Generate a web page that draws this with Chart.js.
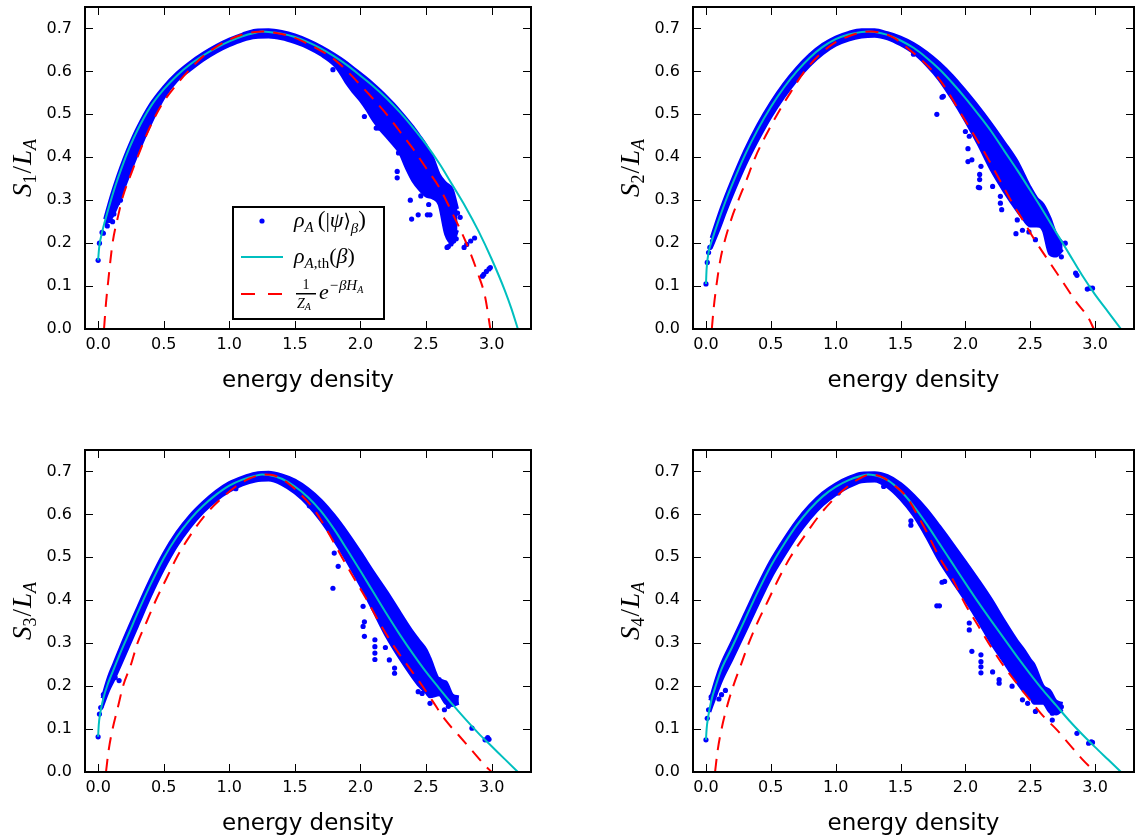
<!DOCTYPE html>
<html><head><meta charset="utf-8">
<script src="https://cdn.jsdelivr.net/npm/chart.js@4/dist/chart.umd.min.js"></script>
<style>
html,body{margin:0;padding:0;background:#fff;}
#wrap{position:relative;width:1138px;height:840px;overflow:hidden;background:#fff;}
canvas{position:absolute;}
</style></head><body>
<div id="wrap">
<canvas id="c1" width="569" height="420" style="left:0;top:0"></canvas>
<canvas id="c2" width="530" height="420" style="left:608px;top:0"></canvas>
<canvas id="c3" width="569" height="397" style="left:0;top:443px"></canvas>
<canvas id="c4" width="530" height="397" style="left:608px;top:443px"></canvas>
</div>
<script>
// ---------- tick labels ----------
const xTickVals = [0, 0.5, 1.0, 1.5, 2.0, 2.5, 3.0];
const yTickVals = [0, 0.1, 0.2, 0.3, 0.4, 0.5, 0.6, 0.7];
const renyiIndex = ['1', '2', '3', '4'];

// ---------- panel 1 : S1/LA ----------
const thE1 = [0,0.005,0.01,0.03,0.06,0.09,0.13,0.18,0.24,0.3,0.4,0.5,0.6,0.7,0.8,0.9,1.0,1.1,1.2,1.25,1.3,1.4,1.5,1.6,1.7,1.8,1.9,2.0,2.1,2.2,2.3,2.4,2.5,2.6,2.7,2.8,2.9,3.0,3.1,3.15,3.2];
const thS1 = [0.16,0.18,0.195,0.225,0.26,0.292,0.332,0.376,0.423,0.463,0.518,0.558,0.59,0.616,0.637,0.655,0.67,0.682,0.69,0.693,0.692,0.688,0.68,0.668,0.653,0.635,0.614,0.59,0.565,0.537,0.505,0.469,0.43,0.386,0.336,0.285,0.228,0.163,0.09,0.048,0.0];
const gbE1 = [0.045,0.06,0.08,0.11,0.15,0.19,0.25,0.3,0.38,0.48,0.6,0.7,0.8,0.9,1.0,1.1,1.2,1.25,1.3,1.4,1.5,1.6,1.7,1.8,1.9,2.0,2.1,2.2,2.3,2.4,2.5,2.6,2.7,2.8,2.9,2.95,2.99];
const gbS1 = [0.0,0.06,0.12,0.2,0.26,0.31,0.36,0.4,0.46,0.52,0.57,0.605,0.635,0.657,0.674,0.686,0.692,0.693,0.692,0.687,0.678,0.664,0.648,0.628,0.6,0.568,0.535,0.5,0.46,0.42,0.375,0.33,0.27,0.205,0.125,0.075,0.0];
const clE1 = [0.05,0.1,0.15,0.2,0.25,0.3,0.4,0.5,0.6,0.7,0.8,0.9,1.0,1.1,1.2,1.3,1.4,1.5,1.6,1.7,1.8,1.85,1.9,1.95,2.0,2.05,2.1,2.15,2.2,2.25,2.3,2.35,2.4,2.45,2.5,2.55,2.6,2.65,2.7,2.74];
const clHi1 = [0.256,0.31,0.357,0.399,0.436,0.469,0.524,0.564,0.596,0.621,0.642,0.66,0.675,0.687,0.696,0.697,0.693,0.685,0.673,0.658,0.64,0.63,0.619,0.607,0.595,0.583,0.57,0.556,0.541,0.525,0.508,0.49,0.471,0.45,0.428,0.4,0.36,0.34,0.325,0.28];
const clLo1 = [0.245,0.258,0.29,0.33,0.37,0.408,0.478,0.538,0.578,0.603,0.626,0.645,0.66,0.672,0.679,0.68,0.676,0.667,0.655,0.638,0.615,0.595,0.57,0.55,0.532,0.51,0.485,0.465,0.448,0.43,0.41,0.375,0.345,0.325,0.31,0.305,0.29,0.22,0.2,0.23];
const dtE1 = [0.0,0.01,0.03,0.04,0.07,0.09,0.11,0.12,0.15,0.17,0.19,1.79,1.83,2.03,2.12,2.14,2.28,2.28,2.29,2.39,2.44,2.51,2.53,2.38,2.52,2.46,2.67,2.69,2.71,2.73,2.66,2.7,2.72,2.79,2.81,2.84,2.87,2.93,2.94,2.96,2.98,2.99,2.74,2.76,2.62,2.64];
const dtS1 = [0.16,0.2,0.225,0.223,0.24,0.253,0.25,0.268,0.294,0.3,0.33,0.604,0.62,0.495,0.468,0.468,0.367,0.352,0.41,0.256,0.266,0.266,0.266,0.3,0.29,0.31,0.192,0.198,0.205,0.21,0.19,0.235,0.225,0.19,0.197,0.205,0.212,0.123,0.127,0.134,0.14,0.143,0.27,0.26,0.3,0.32];

// ---------- panel 2 : S2/LA ----------
const thE2 = [0,0.005,0.02,0.05,0.1,0.15,0.2,0.3,0.4,0.5,0.6,0.7,0.8,0.9,1.0,1.1,1.2,1.25,1.3,1.4,1.5,1.6,1.7,1.8,1.9,2.0,2.1,2.2,2.3,2.4,2.5,2.6,2.7,2.8,2.9,3.0,3.1,3.2];
const thS2 = [0.105,0.14,0.178,0.21,0.255,0.297,0.335,0.405,0.465,0.517,0.562,0.6,0.632,0.657,0.675,0.686,0.692,0.693,0.692,0.685,0.672,0.655,0.632,0.605,0.573,0.538,0.5,0.46,0.415,0.37,0.323,0.275,0.225,0.175,0.125,0.08,0.04,0.0];
const gbE2 = [0.045,0.06,0.08,0.11,0.14,0.2,0.25,0.31,0.38,0.46,0.55,0.65,0.76,0.88,1.0,1.1,1.2,1.27,1.35,1.45,1.55,1.65,1.75,1.85,1.95,2.05,2.15,2.25,2.35,2.45,2.55,2.65,2.75,2.85,2.95,2.99];
const gbS2 = [0.0,0.05,0.1,0.16,0.2,0.26,0.3,0.345,0.4,0.45,0.5,0.55,0.6,0.64,0.668,0.682,0.691,0.693,0.69,0.678,0.655,0.63,0.6,0.56,0.51,0.46,0.41,0.355,0.3,0.25,0.2,0.155,0.11,0.065,0.025,0.0];
const clE2 = [0.04,0.1,0.15,0.2,0.3,0.4,0.5,0.6,0.7,0.8,0.9,1.0,1.1,1.2,1.3,1.4,1.5,1.6,1.7,1.8,1.9,2.0,2.1,2.2,2.3,2.4,2.45,2.5,2.55,2.6,2.65,2.7,2.75];
const clHi2 = [0.212,0.267,0.308,0.346,0.416,0.476,0.527,0.571,0.608,0.639,0.663,0.68,0.691,0.697,0.697,0.69,0.68,0.665,0.645,0.62,0.59,0.555,0.518,0.478,0.435,0.39,0.36,0.33,0.305,0.29,0.26,0.22,0.2];
const clLo2 = [0.188,0.232,0.272,0.31,0.38,0.44,0.494,0.54,0.58,0.614,0.641,0.661,0.673,0.68,0.682,0.676,0.662,0.643,0.615,0.58,0.535,0.485,0.43,0.37,0.32,0.275,0.255,0.24,0.24,0.23,0.175,0.17,0.185];
const dtE2 = [0.0,0.01,0.02,0.03,0.05,1.6,1.62,1.78,1.82,1.83,2.02,2.03,2.0,2.02,2.05,2.12,2.11,2.11,2.11,2.1,2.21,2.27,2.27,2.28,2.4,2.39,2.44,2.49,2.54,2.64,2.64,2.77,2.74,2.85,2.86,2.96,2.98,2.94];
const dtS2 = [0.105,0.155,0.178,0.19,0.205,0.64,0.645,0.5,0.54,0.542,0.42,0.449,0.46,0.39,0.394,0.379,0.36,0.348,0.329,0.33,0.332,0.309,0.293,0.278,0.254,0.222,0.23,0.226,0.208,0.254,0.223,0.2,0.168,0.13,0.125,0.095,0.095,0.093];

// ---------- panel 3 : S3/LA ----------
const thE3 = [0,0.005,0.015,0.04,0.08,0.12,0.18,0.24,0.3,0.4,0.5,0.6,0.7,0.8,0.9,1.0,1.1,1.2,1.25,1.3,1.4,1.5,1.6,1.7,1.8,1.9,2.0,2.1,2.2,2.3,2.4,2.5,2.6,2.7,2.8,2.9,3.0,3.1,3.2];
const thS3 = [0.082,0.11,0.135,0.172,0.21,0.24,0.285,0.327,0.37,0.437,0.498,0.548,0.588,0.62,0.646,0.667,0.681,0.69,0.693,0.692,0.683,0.665,0.64,0.607,0.565,0.517,0.468,0.418,0.368,0.32,0.275,0.233,0.195,0.158,0.123,0.09,0.06,0.03,0.0];
const gbE3 = [0.06,0.08,0.11,0.15,0.19,0.25,0.3,0.37,0.44,0.52,0.6,0.7,0.82,0.95,1.05,1.15,1.27,1.35,1.45,1.55,1.65,1.75,1.85,1.95,2.05,2.15,2.25,2.35,2.45,2.55,2.65,2.75,2.85,2.95,3.0];
const gbS3 = [0.0,0.05,0.1,0.15,0.2,0.25,0.3,0.35,0.4,0.45,0.5,0.55,0.6,0.64,0.665,0.683,0.693,0.69,0.672,0.645,0.61,0.56,0.505,0.452,0.4,0.345,0.295,0.252,0.21,0.165,0.12,0.085,0.05,0.015,0.0];
const clE3 = [0.03,0.08,0.12,0.2,0.3,0.4,0.5,0.6,0.7,0.8,0.9,1.0,1.1,1.2,1.3,1.4,1.5,1.6,1.7,1.8,1.9,2.0,2.1,2.2,2.3,2.4,2.45,2.5,2.53,2.6,2.65,2.7,2.75];
const clHi3 = [0.172,0.222,0.252,0.312,0.382,0.449,0.509,0.558,0.597,0.628,0.654,0.674,0.687,0.696,0.698,0.692,0.68,0.66,0.633,0.598,0.557,0.512,0.465,0.42,0.372,0.325,0.305,0.285,0.265,0.215,0.21,0.18,0.175];
const clLo3 = [0.15,0.19,0.215,0.27,0.34,0.41,0.473,0.527,0.57,0.605,0.633,0.654,0.669,0.678,0.68,0.67,0.65,0.622,0.585,0.54,0.49,0.435,0.375,0.315,0.265,0.22,0.2,0.185,0.175,0.18,0.16,0.155,0.16];
const dtE3 = [0.0,0.01,0.02,0.04,0.09,0.1,0.13,0.16,1.05,1.6,1.61,1.79,1.83,1.8,2.02,2.02,2.03,2.03,2.11,2.11,2.11,2.11,2.19,2.22,2.26,2.26,2.44,2.47,2.53,2.57,2.64,2.67,2.62,2.6,2.85,2.95,2.98,2.97];
const dtS3 = [0.082,0.135,0.15,0.18,0.21,0.225,0.22,0.213,0.66,0.63,0.62,0.428,0.479,0.51,0.386,0.339,0.316,0.35,0.308,0.292,0.277,0.262,0.29,0.261,0.242,0.23,0.187,0.183,0.16,0.207,0.145,0.153,0.21,0.215,0.102,0.075,0.076,0.08];

// ---------- panel 4 : S4/LA ----------
const thE4 = [0,0.005,0.015,0.04,0.08,0.12,0.2,0.3,0.4,0.5,0.6,0.7,0.8,0.9,1.0,1.1,1.2,1.25,1.3,1.4,1.5,1.6,1.7,1.8,1.9,2.0,2.1,2.2,2.3,2.4,2.5,2.6,2.7,2.8,2.9,3.0,3.1,3.2];
const thS4 = [0.075,0.1,0.125,0.165,0.205,0.24,0.29,0.355,0.42,0.48,0.53,0.575,0.612,0.642,0.664,0.68,0.69,0.693,0.691,0.68,0.655,0.62,0.578,0.532,0.486,0.44,0.395,0.352,0.31,0.268,0.228,0.19,0.155,0.12,0.088,0.058,0.029,0.0];
const gbE4 = [0.07,0.09,0.12,0.16,0.21,0.27,0.33,0.4,0.48,0.56,0.65,0.76,0.88,1.0,1.1,1.2,1.27,1.35,1.45,1.55,1.6,1.7,1.8,1.9,2.0,2.1,2.2,2.3,2.4,2.5,2.6,2.7,2.8,2.9,3.0];
const gbS4 = [0.0,0.05,0.1,0.15,0.2,0.25,0.3,0.35,0.4,0.45,0.5,0.55,0.6,0.64,0.667,0.686,0.693,0.688,0.668,0.64,0.615,0.56,0.5,0.45,0.39,0.34,0.29,0.245,0.205,0.167,0.13,0.1,0.065,0.03,0.0];
const clE4 = [0.03,0.08,0.12,0.2,0.3,0.4,0.5,0.6,0.7,0.8,0.9,1.0,1.1,1.2,1.3,1.4,1.5,1.6,1.7,1.8,1.9,2.0,2.1,2.2,2.3,2.4,2.45,2.5,2.53,2.6,2.65,2.7,2.75];
const clHi4 = [0.167,0.218,0.252,0.303,0.368,0.433,0.492,0.541,0.585,0.621,0.65,0.671,0.686,0.696,0.697,0.69,0.672,0.645,0.612,0.573,0.532,0.49,0.447,0.402,0.352,0.305,0.285,0.262,0.25,0.2,0.19,0.165,0.16];
const clLo4 = [0.14,0.182,0.213,0.262,0.325,0.39,0.452,0.503,0.55,0.59,0.622,0.646,0.664,0.676,0.678,0.664,0.636,0.598,0.548,0.492,0.445,0.4,0.352,0.3,0.255,0.208,0.188,0.175,0.16,0.16,0.14,0.135,0.145];
const dtE4 = [0.0,0.01,0.02,0.04,0.07,0.09,0.12,0.15,0.1,1.02,1.37,1.58,1.58,1.78,1.8,1.84,1.82,2.03,2.03,2.05,2.12,2.12,2.12,2.12,2.21,2.26,2.26,2.36,2.44,2.48,2.54,2.67,2.67,2.69,2.74,2.86,2.95,2.98,2.97];
const dtS4 = [0.075,0.125,0.145,0.175,0.19,0.2,0.18,0.19,0.17,0.65,0.665,0.575,0.585,0.387,0.387,0.444,0.442,0.347,0.331,0.281,0.273,0.257,0.245,0.231,0.233,0.215,0.207,0.2,0.168,0.16,0.141,0.137,0.121,0.15,0.152,0.09,0.067,0.069,0.07];

// ---------- styling ----------
const BLUE = '#0000ff', CYAN = '#00bfbf', RED = '#ff0000';
const MATH = '"Liberation Serif", "DejaVu Serif", serif';

function pts(xs, ys) { return xs.map((x, i) => ({x: x, y: ys[i]})); }
function runFont(r) { return (r.i ? 'italic ' : '') + r.s + 'px ' + MATH; }
function runsWidth(ctx, runs) { let w = 0; runs.forEach(r => { ctx.font = runFont(r); w += ctx.measureText(r.t).width + (r.g || 0); }); return w; }
function drawRuns(ctx, x, y, runs) {
  runs.forEach(r => { ctx.font = runFont(r); ctx.fillText(r.t, x, y + (r.dy || 0)); x += ctx.measureText(r.t).width + (r.g || 0); });
  return x;
}

function drawLegend(ctx) {
  ctx.save();
  ctx.fillStyle = '#fff'; ctx.fillRect(233, 207, 151, 112);
  ctx.lineWidth = 2; ctx.strokeStyle = '#000'; ctx.strokeRect(233, 207, 151, 112);
  ctx.fillStyle = BLUE; ctx.beginPath(); ctx.arc(262, 221, 2.6, 0, 2 * Math.PI); ctx.fill();
  ctx.strokeStyle = CYAN; ctx.lineWidth = 2; ctx.beginPath(); ctx.moveTo(241, 257); ctx.lineTo(283, 257); ctx.stroke();
  ctx.strokeStyle = RED; ctx.setLineDash([14, 13]); ctx.beginPath(); ctx.moveTo(241, 294); ctx.lineTo(283, 294); ctx.stroke(); ctx.setLineDash([]);
  ctx.fillStyle = '#000'; ctx.textAlign = 'left'; ctx.textBaseline = 'alphabetic';
  drawRuns(ctx, 294, 227, [
    {t: 'ρ', s: 22, i: true}, {t: 'A', s: 15, i: true, dy: 5, g: 4},
    {t: '(', s: 23}, {t: '|', s: 22}, {t: 'ψ', s: 22, i: true}, {t: '⟩', s: 19},
    {t: 'β', s: 15, i: true, dy: 6}, {t: ')', s: 23}
  ]);
  drawRuns(ctx, 294, 263, [
    {t: 'ρ', s: 22, i: true}, {t: 'A', s: 15, i: true, dy: 5}, {t: ',th', s: 15, dy: 5},
    {t: '(', s: 22}, {t: 'β', s: 22, i: true}, {t: ')', s: 22}
  ]);
  ctx.font = '14px ' + MATH; ctx.textAlign = 'center'; ctx.fillText('1', 306, 289);
  ctx.fillRect(296, 293, 20, 1.5);
  ctx.textAlign = 'left';
  drawRuns(ctx, 297, 308, [{t: 'Z', s: 14, i: true}, {t: 'A', s: 10, i: true, dy: 2}]);
  drawRuns(ctx, 319, 299, [
    {t: 'e', s: 22, i: true}, {t: '−βH', s: 15, i: true, dy: -9}, {t: 'A', s: 10, i: true, dy: -6}
  ]);
  ctx.restore();
}

const framePlugin = {
  id: 'frame',
  afterDatasetsDraw(chart, args, opts) {
    const {ctx, chartArea: a, scales: {x, y}} = chart;
    ctx.save();
    ctx.strokeStyle = '#000'; ctx.lineWidth = 1;
    ctx.beginPath();
    xTickVals.forEach(v => {
      const px = Math.round(x.getPixelForValue(v)) + 0.5;
      ctx.moveTo(px, a.bottom); ctx.lineTo(px, a.bottom - 8);
      ctx.moveTo(px, a.top); ctx.lineTo(px, a.top + 8);
    });
    yTickVals.forEach(v => {
      const py = Math.round(y.getPixelForValue(v)) + 0.5;
      ctx.moveTo(a.left, py); ctx.lineTo(a.left + 8, py);
      ctx.moveTo(a.right, py); ctx.lineTo(a.right - 8, py);
    });
    ctx.stroke();
    ctx.lineWidth = 2;
    ctx.strokeRect(a.left, a.top, a.right - a.left, a.bottom - a.top);
    ctx.fillStyle = '#000';
    ctx.font = '23px "DejaVu Sans"'; ctx.textAlign = 'center'; ctx.textBaseline = 'alphabetic';
    ctx.fillText('energy density', (a.left + a.right) / 2, a.bottom + 58);
    const runs = [
      {t: 'S', s: 27, i: true}, {t: opts.n, s: 18, dy: 5, g: 1}, {t: '/', s: 27, g: 1},
      {t: 'L', s: 27, i: true}, {t: 'A', s: 18, i: true, dy: 5}
    ];
    const w = runsWidth(ctx, runs);
    ctx.translate(a.left - 54, (a.top + a.bottom) / 2);
    ctx.rotate(-Math.PI / 2);
    ctx.textAlign = 'left';
    drawRuns(ctx, -w / 2, 0, runs);
    ctx.setTransform(1, 0, 0, 1, 0, 0);
    if (opts.legend) drawLegend(ctx);
    ctx.restore();
  }
};

const panels = [
  {id: 'c1', H: 420, rp: 38, th: [thE1, thS1], gb: [gbE1, gbS1], cl: [clE1, clHi1, clLo1], dt: [dtE1, dtS1]},
  {id: 'c2', H: 420, rp: 1, th: [thE2, thS2], gb: [gbE2, gbS2], cl: [clE2, clHi2, clLo2], dt: [dtE2, dtS2]},
  {id: 'c3', H: 397, rp: 38, th: [thE3, thS3], gb: [gbE3, gbS3], cl: [clE3, clHi3, clLo3], dt: [dtE3, dtS3]},
  {id: 'c4', H: 397, rp: 1, th: [thE4, thS4], gb: [gbE4, gbS4], cl: [clE4, clHi4, clLo4], dt: [dtE4, dtS4]}
];

panels.forEach((P, idx) => {
  const tickFont = {family: 'DejaVu Sans', size: 16};
  new Chart(document.getElementById(P.id), {
    type: 'line',
    data: {
      datasets: [
        {data: pts(P.gb[0], P.gb[1]), borderColor: RED, borderWidth: 2, borderDash: [13, 9], pointRadius: 0, fill: false, cubicInterpolationMode: 'monotone'},
        {data: pts(P.th[0], P.th[1]), borderColor: CYAN, borderWidth: 2, pointRadius: 0, fill: false, cubicInterpolationMode: 'monotone'},
        {data: pts(P.dt[0], P.dt[1]), showLine: false, pointRadius: 2.6, pointBackgroundColor: BLUE, pointBorderWidth: 0, borderColor: BLUE},
        {data: pts(P.cl[0], P.cl[1]), borderColor: BLUE, borderWidth: 3, pointRadius: 0, backgroundColor: BLUE, fill: '+1', cubicInterpolationMode: 'monotone', borderJoinStyle: 'round'},
        {data: pts(P.cl[0], P.cl[2]), borderColor: BLUE, borderWidth: 3, pointRadius: 0, fill: false, cubicInterpolationMode: 'monotone', borderJoinStyle: 'round'}
      ]
    },
    options: {
      responsive: false, animation: false, events: [], devicePixelRatio: 1,
      layout: {padding: {left: 0, right: P.rp, top: 7, bottom: 0}},
      plugins: {legend: {display: false}, tooltip: {enabled: false}, frame: {legend: idx === 0, n: renyiIndex[idx]}},
      scales: {
        x: {
          type: 'linear', min: -0.1, max: 3.3,
          afterBuildTicks: s => { s.ticks = xTickVals.map(v => ({value: v})); },
          afterFit: s => { s.height = P.H - 329; s.paddingLeft = 0; s.paddingRight = 0; },
          grid: {display: false, drawTicks: false}, border: {display: false},
          ticks: {padding: 6, color: '#000', font: tickFont, autoSkip: false, maxRotation: 0, callback: v => Number(v).toFixed(1)}
        },
        y: {
          type: 'linear', min: 0, max: 0.75,
          afterBuildTicks: s => { s.ticks = yTickVals.map(v => ({value: v})); },
          afterFit: s => { s.width = 85; s.paddingTop = 0; s.paddingBottom = 0; },
          grid: {display: false, drawTicks: false}, border: {display: false},
          ticks: {padding: 13, color: '#000', font: tickFont, autoSkip: false, callback: v => Number(v).toFixed(1)}
        }
      }
    },
    plugins: [framePlugin]
  });
});
</script>
</body></html>
